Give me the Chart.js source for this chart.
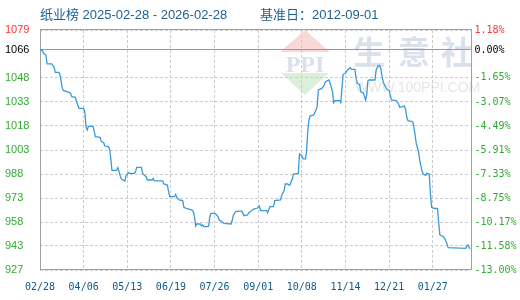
<!DOCTYPE html>
<html><head><meta charset="utf-8">
<script src="https://cdn.jsdelivr.net/npm/chart.js@4/dist/chart.umd.min.js"></script>
<style>html,body{margin:0;padding:0;background:#fff}#wrap{width:520px;height:300px;position:relative}</style>
</head><body><div id="wrap"><canvas id="c" width="520" height="300"></canvas></div>
<script>
const titleLeft = '纸业榜 2025-02-28 - 2026-02-28';
const titleRight = '基准日：2012-09-01';
const startDate = '2025-02-28';
const endDate = '2026-02-28';
const basePrice = 1066;
const pctTicks = [1.18, 0, -1.65, -3.07, -4.49, -5.91, -7.33, -8.75, -10.17, -11.58, -13.00];
const priceTickLabels = ['1079','1066','1048','1033','1018','1003','988','973','958','943','927'];
const pctTickLabels = ['1.18%','0.00%','-1.65%','-3.07%','-4.49%','-5.91%','-7.33%','-8.75%','-10.17%','-11.58%','-13.00%'];
const xTickDates = ['2025-02-28','2025-04-06','2025-05-13','2025-06-19','2025-07-26','2025-09-01','2025-10-08','2025-11-14','2025-12-21','2026-01-27'];
const xTickLabels = ['02/28','04/06','05/13','06/19','07/26','09/01','10/08','11/14','12/21','01/27'];

const dates = [
'2025-02-28','2025-03-02','2025-03-03','2025-03-05','2025-03-06','2025-03-10','2025-03-11','2025-03-12','2025-03-13','2025-03-16',
'2025-03-17','2025-03-18','2025-03-19','2025-03-20','2025-03-25','2025-03-26','2025-03-27','2025-03-30','2025-03-31','2025-04-01',
'2025-04-02','2025-04-06','2025-04-07','2025-04-08','2025-04-09','2025-04-10','2025-04-14','2025-04-15','2025-04-16','2025-04-20',
'2025-04-21','2025-04-23','2025-04-24','2025-04-27','2025-04-28','2025-04-29','2025-04-30','2025-05-04','2025-05-05','2025-05-06',
'2025-05-07','2025-05-08','2025-05-11','2025-05-12','2025-05-14','2025-05-15','2025-05-19','2025-05-20','2025-05-21','2025-05-25',
'2025-05-26','2025-05-28','2025-05-29','2025-05-30','2025-06-03','2025-06-04','2025-06-05','2025-06-12','2025-06-13','2025-06-16',
'2025-06-17','2025-06-18','2025-06-22','2025-06-23','2025-06-24','2025-06-26','2025-06-29','2025-06-30','2025-07-02','2025-07-07',
'2025-07-08','2025-07-09','2025-07-10','2025-07-11','2025-07-14','2025-07-15','2025-07-16','2025-07-17','2025-07-20','2025-07-21',
'2025-07-22','2025-07-23','2025-07-26','2025-07-27','2025-07-29','2025-07-30','2025-08-01','2025-08-03','2025-08-09','2025-08-10',
'2025-08-11','2025-08-13','2025-08-18','2025-08-19','2025-08-20','2025-08-23','2025-08-24','2025-08-26','2025-08-28','2025-08-31',
'2025-09-02','2025-09-03','2025-09-08','2025-09-09','2025-09-10','2025-09-11','2025-09-14','2025-09-15','2025-09-20','2025-09-21',
'2025-09-23','2025-09-24','2025-09-26','2025-09-27','2025-09-28','2025-09-29','2025-09-30','2025-10-01','2025-10-05','2025-10-06',
'2025-10-08','2025-10-09','2025-10-11','2025-10-12','2025-10-13','2025-10-14','2025-10-15','2025-10-18','2025-10-20','2025-10-21',
'2025-10-22','2025-10-25','2025-10-27','2025-10-28','2025-10-31','2025-11-01','2025-11-03','2025-11-04','2025-11-05','2025-11-09',
'2025-11-10','2025-11-11','2025-11-12','2025-11-14','2025-11-16','2025-11-18','2025-11-19','2025-11-22','2025-11-23','2025-11-24',
'2025-11-26','2025-11-27','2025-11-29','2025-11-30','2025-12-01','2025-12-02','2025-12-03','2025-12-04','2025-12-09','2025-12-10',
'2025-12-11','2025-12-12','2025-12-13','2025-12-14','2025-12-15','2025-12-16','2025-12-18','2025-12-19','2025-12-21','2025-12-22',
'2025-12-23','2025-12-27','2025-12-29','2025-12-30','2026-01-03','2026-01-04','2026-01-05','2026-01-06','2026-01-10','2026-01-11',
'2026-01-12','2026-01-13','2026-01-15','2026-01-16','2026-01-18','2026-01-19','2026-01-21','2026-01-22','2026-01-24','2026-01-25',
'2026-01-26','2026-01-28','2026-01-31','2026-02-01','2026-02-02','2026-02-05','2026-02-06','2026-02-08','2026-02-09','2026-02-24',
'2026-02-25','2026-02-26','2026-02-27','2026-02-28'
];
const prices = [
1066.0,1065.6,1063.9,1062.8,1057.2,1057.2,1056.1,1054.9,1051.9,1051.9,
1050.2,1046.0,1041.5,1040.4,1039.3,1038.3,1036.6,1036.2,1033.4,1031.3,
1029.2,1029.2,1027.1,1017.7,1015.6,1017.9,1017.9,1014.6,1011.4,1011.0,
1008.3,1007.6,1005.5,1005.1,1003.8,997.8,990.2,990.2,991.9,989.4,
986.8,984.7,983.5,986.8,988.7,988.3,988.3,989.4,992.1,992.1,
988.3,986.8,986.2,984.1,984.1,985.2,983.5,983.5,981.6,980.9,
976.8,973.6,973.6,975.1,973.2,971.5,971.1,966.9,966.3,965.2,
964.2,961.0,955.1,956.4,956.4,955.1,955.8,954.7,954.7,955.1,
961.0,963.1,963.1,962.7,961.0,958.9,957.9,956.8,956.4,958.9,
962.1,964.2,964.6,963.1,961.6,962.1,963.5,964.6,965.8,966.3,
967.7,964.8,964.8,963.5,965.6,967.3,967.3,971.1,971.5,974.7,
977.4,981.6,981.6,980.9,980.9,983.1,985.0,987.9,988.3,1000.5,
999.6,997.4,997.4,1002.0,1014.6,1021.9,1024.4,1025.1,1028.2,1030.3,
1040.8,1041.8,1043.9,1046.0,1047.1,1045.0,1039.7,1032.8,1034.1,1034.1,
1032.8,1042.0,1050.5,1051.5,1053.6,1055.0,1053.8,1053.8,1048.1,1045.0,
1044.2,1039.7,1039.0,1037.0,1034.5,1037.6,1046.5,1047.1,1047.1,1053.4,
1055.1,1056.1,1056.1,1054.0,1049.2,1046.0,1042.5,1041.4,1040.4,1037.6,
1034.5,1034.1,1032.0,1029.9,1030.7,1028.2,1023.6,1021.5,1020.8,1017.7,
1012.5,1007.2,1001.9,996.1,989.4,987.9,987.0,988.3,987.9,975.7,
966.9,966.3,966.1,957.9,949.5,948.4,947.4,944.2,941.5,941.1,
942.7,943.2,941.5,940.4
];

const dayOf = s => (Date.parse(s + 'T00:00:00Z') - Date.parse(startDate + 'T00:00:00Z')) / 86400000;
const pctToPrice = p => basePrice * (1 + p / 100);
const yMin = pctToPrice(pctTicks[pctTicks.length - 1]);
const yMax = pctToPrice(pctTicks[0]);
const tickColor = ctx => ctx.index === 0 ? '#ff3333' : (ctx.index === 1 ? '#000000' : '#33aa33');
const GRID = '#cccccc';

const watermark = {
  id: 'watermark',
  beforeDraw(chart) {
    const c = chart.ctx;
    c.save();
    // PPI logo
    c.fillStyle = 'rgba(235,120,110,0.28)';
    c.beginPath(); c.moveTo(305, 30); c.lineTo(330, 52); c.lineTo(280, 52); c.closePath(); c.fill();
    c.fillStyle = 'rgba(110,190,110,0.25)';
    c.beginPath(); c.moveTo(281, 73); c.lineTo(329, 73); c.lineTo(305, 95); c.closePath(); c.fill();
    c.fillStyle = 'rgba(150,165,205,0.35)';
    c.font = 'bold 24px "Liberation Serif"';
    c.textAlign = 'center'; c.textBaseline = 'alphabetic';
    c.fillText('PPI', 305, 72);
    // 生意社
    c.fillStyle = 'rgba(160,175,205,0.38)';
    c.font = 'bold 32px "Noto Sans CJK SC"';
    c.textBaseline = 'middle';
    [['生', 369], ['意', 414], ['社', 457]].forEach(([t, x]) => c.fillText(t, x, 52));
    c.fillStyle = 'rgba(180,180,180,0.35)';
    c.font = '14px "Liberation Sans"';
    c.textAlign = 'left'; c.textBaseline = 'alphabetic';
    c.fillText('WWW.100PPI.COM', 355, 92);
    c.restore();
  }
};

const frame = {
  id: 'frame',
  beforeDatasetsDraw(chart) {
    const c = chart.ctx, a = chart.chartArea;
    c.save();
    c.strokeStyle = '#999999';
    c.lineWidth = 1;
    const y0 = Math.round(chart.scales.y.getPixelForValue(basePrice)) - 0.5;
    c.beginPath(); c.moveTo(a.left, y0); c.lineTo(a.right, y0); c.stroke();
    c.strokeStyle = '#a0a0a0';
    c.strokeRect(Math.round(a.left) + 0.5, Math.round(a.top) - 0.5, Math.round(a.right - a.left), Math.round(a.bottom - a.top));
    c.restore();
  },
  afterDraw(chart) {
    const c = chart.ctx;
    c.save();
    c.fillStyle = '#1e5f8f';
    c.font = '13px "Liberation Sans", "Noto Sans CJK SC"';
    c.textBaseline = 'middle';
    c.textAlign = 'left';
    c.fillText(titleLeft, 40, 15);
    c.fillText(titleRight, 260, 15);
    c.restore();
  }
};

new Chart(document.getElementById('c'), {
  type: 'line',
  data: {
    datasets: [{
      data: dates.map((d, i) => ({ x: dayOf(d), y: prices[i] })),
      borderColor: '#3a9ad9',
      borderWidth: 1.3,
      pointRadius: 0,
      tension: 0,
      fill: false
    }]
  },
  options: {
    responsive: false,
    animation: false,
    devicePixelRatio: 1,
    layout: { padding: { left: 5, top: 30, right: 0, bottom: 0 } },
    plugins: { legend: { display: false }, tooltip: { enabled: false }, title: { display: false } },
    scales: {
      x: {
        type: 'linear',
        min: 0,
        max: dayOf(endDate),
        afterBuildTicks: s => { s.ticks = xTickDates.map(d => ({ value: dayOf(d) })); },
        afterFit: s => { s.height = 30; },
        ticks: {
          callback: (v, i) => xTickLabels[i],
          color: '#0e5a8a',
          font: { family: 'DejaVu Sans Mono', size: 10 },
          padding: 11,
          maxRotation: 0,
          autoSkip: false
        },
        grid: { color: GRID, drawTicks: false, lineWidth: 1 },
        border: { display: false, dash: [3, 2] }
      },
      y: {
        position: 'left',
        min: yMin,
        max: yMax,
        afterBuildTicks: s => { s.ticks = pctTicks.map(p => ({ value: pctToPrice(p) })); },
        afterFit: s => { s.width = 35; },
        ticks: {
          callback: (v, i) => priceTickLabels[i],
          color: tickColor,
          crossAlign: 'far',
          font: { family: 'Liberation Sans', size: 11 },
          autoSkip: false
        },
        grid: { color: GRID, drawTicks: false, lineWidth: 1 },
        border: { display: false, dash: [3, 2] }
      },
      y2: {
        position: 'right',
        min: yMin,
        max: yMax,
        afterBuildTicks: s => { s.ticks = pctTicks.map(p => ({ value: pctToPrice(p) })); },
        afterFit: s => { s.width = 49.5; },
        ticks: {
          callback: (v, i) => pctTickLabels[i],
          color: tickColor,
          padding: 4,
          font: { family: 'DejaVu Sans Mono', size: 10 },
          autoSkip: false
        },
        grid: { display: false, drawTicks: false },
        border: { display: false }
      }
    }
  },
  plugins: [watermark, frame]
});
</script>
</body></html>
